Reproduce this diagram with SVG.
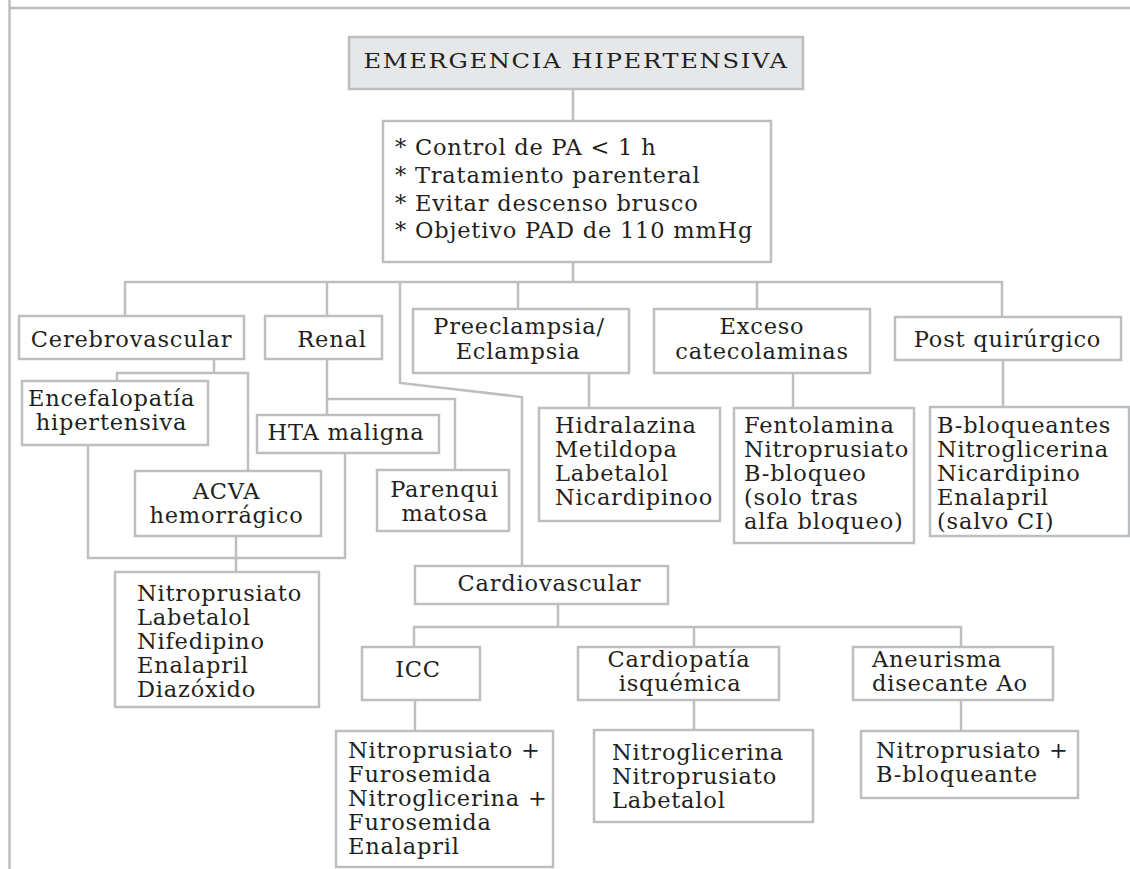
<svg xmlns="http://www.w3.org/2000/svg" width="1130" height="869" viewBox="0 0 1130 869">
<style>
.b{fill:#ffffff;stroke:#bcbec0;stroke-width:2.5}
.t{fill:#e6e7e8;stroke:#bcbec0;stroke-width:2.5}
.c{fill:none;stroke:#bcbec0;stroke-width:2.5}
text{font-family:"DejaVu Serif","Liberation Serif",serif;font-size:22.5px;fill:#231f20;letter-spacing:0.8px}
.m{text-anchor:middle}
.h{font-size:21px;letter-spacing:1.5px}
</style>
<rect width="1130" height="869" fill="#ffffff"/>
<g id="frame" class="c">
<line x1="9.5" y1="0" x2="9.5" y2="869"/>
<line x1="9.5" y1="8" x2="1130" y2="8"/>
</g>
<g id="connectors" class="c">
<line x1="573" y1="89" x2="573" y2="121"/>
<line x1="573" y1="262" x2="573" y2="282"/>
<polyline points="125,316 125,282 1002,282 1002,317"/>
<line x1="327" y1="282" x2="327" y2="316"/>
<line x1="518" y1="282" x2="518" y2="309"/>
<line x1="757" y1="282" x2="757" y2="309"/>
<polyline points="400,282 400,383 522,397 522,566"/>
<line x1="214" y1="359" x2="214" y2="373"/>
<polyline points="117,381 117,373 248,373 248,471"/>
<polyline points="88,445 88,558 345,558 345,453"/>
<line x1="236" y1="536" x2="236" y2="572"/>
<line x1="327" y1="359" x2="327" y2="415"/>
<polyline points="327,399 455,399 455,470"/>
<line x1="589" y1="373" x2="589" y2="408"/>
<line x1="793" y1="373" x2="793" y2="408"/>
<line x1="1003" y1="360" x2="1003" y2="407"/>
<line x1="558" y1="604" x2="558" y2="627"/>
<polyline points="414,647 414,627 961,627 961,647"/>
<line x1="694" y1="627" x2="694" y2="647"/>
<line x1="415" y1="700" x2="415" y2="731"/>
<line x1="694" y1="700" x2="694" y2="730"/>
<line x1="961" y1="700" x2="961" y2="731"/>
</g>
<g id="n-emergencia"><rect class="t" x="349" y="37" width="454" height="52"/><text class="m h" transform="translate(576,68) scale(1.15,1)">EMERGENCIA HIPERTENSIVA</text></g>
<g id="n-control"><rect class="b" x="383" y="121" width="388" height="141"/>
<text x="395" y="155">* Control de PA &lt; 1 h</text>
<text x="395" y="183">* Tratamiento parenteral</text>
<text x="395" y="211">* Evitar descenso brusco</text>
<text x="395" y="238">* Objetivo PAD de 110 mmHg</text></g>
<g id="n-cerebro"><rect class="b" x="19" y="316" width="225" height="43"/><text class="m" x="131.5" y="347">Cerebrovascular</text></g>
<g id="n-renal"><rect class="b" x="265" y="316" width="117" height="43"/><text class="m" x="332" y="347">Renal</text></g>
<g id="n-preeclampsia"><rect class="b" x="413" y="309" width="216" height="64"/><text class="m" x="519" y="334">Preeclampsia/</text><text class="m" x="518" y="359">Eclampsia</text></g>
<g id="n-exceso"><rect class="b" x="654" y="309" width="216" height="64"/><text class="m" x="762" y="334">Exceso</text><text class="m" x="762" y="359">catecolaminas</text></g>
<g id="n-post"><rect class="b" x="895" y="317" width="226" height="43"/><text class="m" x="1007.5" y="347">Post quirúrgico</text></g>
<g id="n-encefalopatia"><rect class="b" x="22" y="381" width="186" height="64"/><text class="m" x="111.5" y="405.5">Encefalopatía</text><text class="m" x="111.5" y="429.5">hipertensiva</text></g>
<g id="n-hta"><rect class="b" x="257" y="415" width="182" height="38"/><text class="m" x="346" y="440">HTA maligna</text></g>
<g id="n-acva"><rect class="b" x="135" y="471" width="186" height="65"/><text class="m" x="226.5" y="498.5">ACVA</text><text class="m" x="226.5" y="522.5">hemorrágico</text></g>
<g id="n-parenqui"><rect class="b" x="377" y="470" width="132" height="61"/><text class="m" x="444.5" y="496.5">Parenqui</text><text class="m" x="445" y="520.5">matosa</text></g>
<g id="n-hidralazina"><rect class="b" x="539" y="408" width="181" height="113"/>
<text x="555" y="433">Hidralazina</text><text x="555" y="457">Metildopa</text><text x="555" y="481">Labetalol</text><text x="555" y="505">Nicardipinoo</text></g>
<g id="n-fentolamina"><rect class="b" x="734" y="408" width="180" height="135"/>
<text x="744" y="433">Fentolamina</text><text x="744" y="457">Nitroprusiato</text><text x="744" y="481">B-bloqueo</text><text x="744" y="505">(solo tras</text><text x="744" y="529">alfa bloqueo)</text></g>
<g id="n-bbloqueantes"><rect class="b" x="930" y="407" width="199" height="129"/>
<text x="937" y="433">B-bloqueantes</text><text x="937" y="457">Nitroglicerina</text><text x="937" y="481">Nicardipino</text><text x="937" y="505">Enalapril</text><text x="937" y="529">(salvo CI)</text></g>
<g id="n-cerebro-meds"><rect class="b" x="115" y="572" width="204" height="135"/>
<text x="137" y="601">Nitroprusiato</text><text x="137" y="625">Labetalol</text><text x="137" y="649">Nifedipino</text><text x="137" y="673">Enalapril</text><text x="137" y="697">Diazóxido</text></g>
<g id="n-cardiovascular"><rect class="b" x="415" y="566" width="253" height="38"/><text class="m" x="549.5" y="591">Cardiovascular</text></g>
<g id="n-icc"><rect class="b" x="362" y="647" width="118" height="53"/><text class="m" x="418" y="677">ICC</text></g>
<g id="n-cardiopatia"><rect class="b" x="578" y="647" width="201" height="53"/><text class="m" x="679" y="666.5">Cardiopatía</text><text class="m" x="680" y="690.5">isquémica</text></g>
<g id="n-aneurisma"><rect class="b" x="853" y="647" width="200" height="53"/><text x="872" y="666.5">Aneurisma</text><text x="872" y="690.5">disecante Ao</text></g>
<g id="n-icc-meds"><rect class="b" x="336" y="731" width="217" height="136"/>
<text x="348" y="758">Nitroprusiato +</text><text x="348" y="782">Furosemida</text><text x="348" y="806">Nitroglicerina +</text><text x="348" y="830">Furosemida</text><text x="348" y="854">Enalapril</text></g>
<g id="n-isquemica-meds"><rect class="b" x="594" y="730" width="219" height="92"/>
<text x="612" y="760">Nitroglicerina</text><text x="612" y="784">Nitroprusiato</text><text x="612" y="808">Labetalol</text></g>
<g id="n-aneurisma-meds"><rect class="b" x="861" y="731" width="217" height="67"/>
<text x="876" y="758">Nitroprusiato +</text><text x="876" y="782">B-bloqueante</text></g>
</svg>
